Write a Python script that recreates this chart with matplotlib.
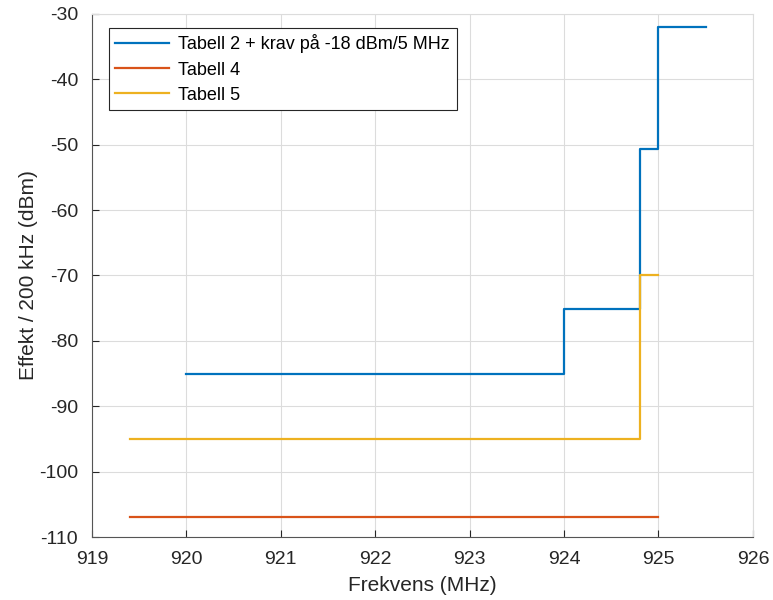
import matplotlib.pyplot as plt

# data
blue_x = [920, 924, 924.8, 925, 925.5]
blue_y = [-85, -75.2, -50.6, -32, -32]
orange_x = [919.4, 925]
orange_y = [-107, -107]
yellow_x = [919.4, 924.8, 925]
yellow_y = [-95, -70, -70]
labels = ['Tabell 2 + krav på -18 dBm/5 MHz', 'Tabell 4', 'Tabell 5']

c_blue = (0, 0.447, 0.741)
c_orange = (0.85, 0.325, 0.098)
c_yellow = (0.929, 0.694, 0.125)

plt.rcParams['font.family'] = ['Liberation Sans', 'DejaVu Sans']
plt.rcParams['axes.unicode_minus'] = False

fig = plt.figure(figsize=(7.73, 6), dpi=100)
ax = fig.add_axes([0.119, 0.105, 0.855, 0.872])

ax.step(blue_x, blue_y, where='post', color=c_blue, lw=1.6, label=labels[0])
ax.step(orange_x, orange_y, where='post', color=c_orange, lw=1.6, label=labels[1])
ax.step(yellow_x, yellow_y, where='post', color=c_yellow, lw=1.6, label=labels[2])

ax.set_xlim(919, 926)
ax.set_ylim(-110, -30)
ax.set_xticks(range(919, 927))
ax.set_yticks(range(-110, -29, 10))
ax.grid(True, color='#dcdcdc', lw=0.8)
ax.set_axisbelow(True)

for s in ['left', 'bottom']:
    ax.spines[s].set_color('#555555')
for s in ['top', 'right']:
    ax.spines[s].set_color('#dcdcdc')
ax.tick_params(direction='in', length=5, labelsize=14, colors='#262626')
ax.tick_params(axis='x', pad=10)
ax.tick_params(axis='y', pad=10)

ax.set_xlabel('Frekvens (MHz)', fontsize=15, color='#262626', labelpad=6)
ax.set_ylabel('Effekt / 200 kHz (dBm)', fontsize=15, color='#262626', labelpad=1)

leg = ax.legend(loc='upper left', bbox_to_anchor=(0.012, 0.99), fontsize=13,
                fancybox=False, edgecolor='#262626', framealpha=1,
                handlelength=3.0, borderpad=0.35, labelspacing=0.45,
                handletextpad=0.5)
leg.get_frame().set_linewidth(0.8)

fig.savefig('out.png', dpi=100)
